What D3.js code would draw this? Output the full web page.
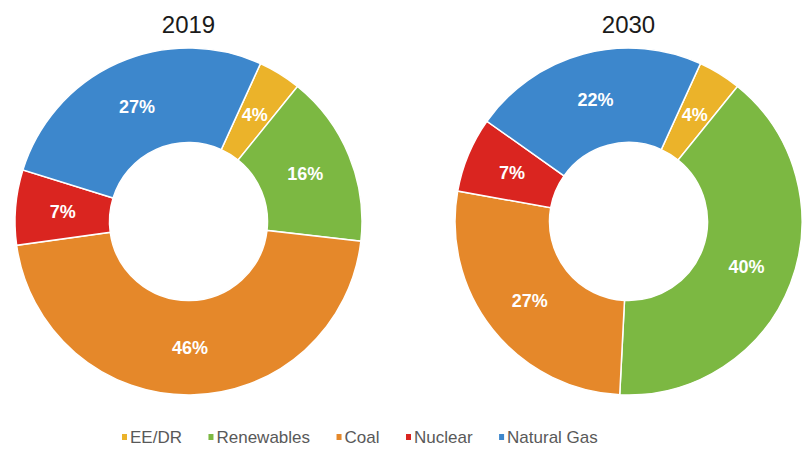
<!DOCTYPE html>
<html lang="en">
<head>
    <meta charset="UTF-8">
    <title>Generation mix 2019 vs 2030</title>
    <script src="https://d3js.org/d3.v7.min.js"></script>
    <style>
        body { margin: 0; background: #fff; }
        svg { display: block; font-family: "Liberation Sans", Arial, sans-serif; }
    </style>
</head>
<body>
    <svg width="808" height="455"></svg>

    <script>
        // data
        const categories = ["EE/DR", "Renewables", "Coal", "Nuclear", "Natural Gas"];
        const colors = ["#EBB32A", "#7CB842", "#E5882A", "#DA2520", "#3D87CC"];
        const years = ["2019", "2030"];
        const share2019 = [4, 16, 46, 7, 27];
        const share2030 = [4, 40, 27, 7, 22];

        const svg = d3.select("svg");
        const outerR = 173.5, innerR = 79;
        const startDeg = 24.5;

        const pie = d3.pie()
            .sort(null)
            .startAngle(startDeg * Math.PI / 180)
            .endAngle((startDeg + 360) * Math.PI / 180);
        const arc = d3.arc().innerRadius(innerR).outerRadius(outerR);
        const labelArc = d3.arc().innerRadius((innerR + outerR) / 2).outerRadius((innerR + outerR) / 2);

        const color = d3.scaleOrdinal().domain(categories).range(colors);

        const charts = [
            { year: years[0], values: share2019, cx: 188.5 },
            { year: years[1], values: share2030, cx: 628.5 }
        ];
        const cy = 221.5;

        charts.forEach(c => {
            const g = svg.append("g").attr("transform", `translate(${c.cx},${cy})`);
            const arcs = pie(c.values);

            g.selectAll("path")
                .data(arcs)
                .enter().append("path")
                .attr("d", arc)
                .attr("fill", (d, i) => color(categories[i]))
                .attr("stroke", "#fff")
                .attr("stroke-width", 1.5);

            g.selectAll("text.lbl")
                .data(arcs)
                .enter().append("text")
                .attr("class", "lbl")
                .attr("transform", d => `translate(${labelArc.centroid(d)})`)
                .attr("text-anchor", "middle")
                .attr("dy", "0.36em")
                .attr("fill", "#fff")
                .attr("font-weight", "bold")
                .attr("font-size", 18)
                .text(d => d.data + "%");

            svg.append("text")
                .attr("x", c.cx)
                .attr("y", 33)
                .attr("text-anchor", "middle")
                .attr("font-size", 24)
                .attr("fill", "#1a1a1a")
                .text(c.year);
        });

        // legend
        const legend = svg.append("g").attr("transform", "translate(122,443)");
        let x = 0;
        categories.forEach((name, i) => {
            const item = legend.append("g").attr("transform", `translate(${x},0)`);
            item.append("rect")
                .attr("x", 0).attr("y", -9)
                .attr("width", 5).attr("height", 6)
                .attr("fill", color(name));
            const t = item.append("text")
                .attr("x", 8)
                .attr("y", 0)
                .attr("font-size", 17)
                .attr("fill", "#595959")
                .text(name);
            x += 8 + t.node().getComputedTextLength() + 26.5;
        });
    </script>
</body>
</html>
